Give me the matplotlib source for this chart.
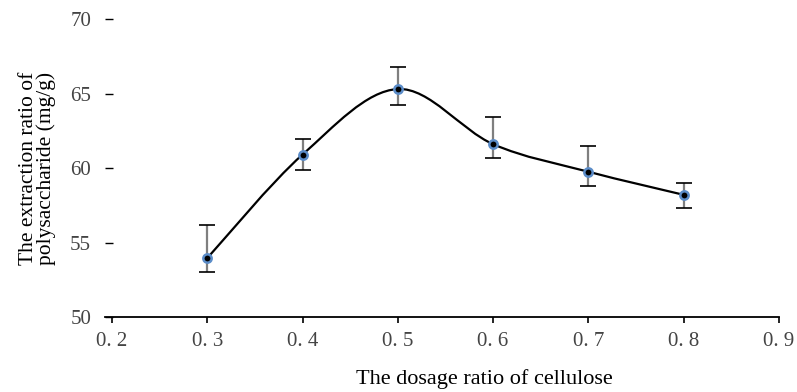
import matplotlib.pyplot as plt
from matplotlib.path import Path
from matplotlib.patches import PathPatch

# dosage ratio of cellulose and extraction ratio (mg/g)
ratio = [0.3, 0.4, 0.5, 0.6, 0.7, 0.8]
extraction = [53.95, 60.9, 65.3, 61.6, 59.75, 58.2]
err_low = [0.95, 1.0, 1.1, 0.9, 0.95, 0.9]
err_high = [2.25, 1.05, 1.5, 1.8, 1.75, 0.8]
xtick_vals = [0.2, 0.3, 0.4, 0.5, 0.6, 0.7, 0.8, 0.9]
xtick_labels = ["0. 2", "0. 3", "0. 4", "0. 5", "0. 6", "0. 7", "0. 8", "0. 9"]
ytick_vals = [50, 55, 60, 65, 70]

plt.rcParams['font.family'] = ['Liberation Serif', 'DejaVu Serif']

fig = plt.figure(figsize=(7.97, 3.92), dpi=100)
ax = fig.add_axes([0.1317, 0.1913, 0.8457, 0.7602])


def smooth_path(xs, ys):
    # Excel-like smoothed line: cubic bezier segments through the points
    pts = list(zip(xs, ys))
    verts = [pts[0]]
    codes = [Path.MOVETO]
    n = len(pts)
    for i in range(n - 1):
        p0 = pts[i - 1] if i > 0 else pts[i]
        p1 = pts[i]
        p2 = pts[i + 1]
        p3 = pts[i + 2] if i + 2 < n else pts[i + 1]
        c1 = (p1[0] + (p2[0] - p0[0]) / 6, p1[1] + (p2[1] - p0[1]) / 6)
        c2 = (p2[0] - (p3[0] - p1[0]) / 6, p2[1] - (p3[1] - p1[1]) / 6)
        verts += [c1, c2, p2]
        codes += [Path.CURVE4] * 3
    return Path(verts, codes)


ax.add_patch(PathPatch(smooth_path(ratio, extraction), facecolor='none',
                       edgecolor='black', lw=1.6, zorder=2))

# error bars: grey stems, black caps
ax.errorbar(ratio, extraction, yerr=[err_low, err_high], fmt='none',
            ecolor='#7f7f7f', elinewidth=1.6, capsize=0, zorder=1)
ax.errorbar(ratio, extraction, yerr=[err_low, err_high], fmt='none',
            ecolor='black', elinewidth=0, capsize=6, capthick=1.2, zorder=1)

ax.plot(ratio, extraction, 'o', ms=6, mfc='black', mec='#5b8cc8',
        mew=1.8, zorder=3)

ax.set_xlim(0.1927, 0.9)
ax.set_ylim(50, 70)
ax.set_xticks(xtick_vals)
ax.set_xticklabels(xtick_labels)
ax.set_yticks(ytick_vals)

for s in ['top', 'right', 'left']:
    ax.spines[s].set_visible(False)
ax.spines['bottom'].set_linewidth(1.3)

ax.tick_params(axis='x', direction='out', length=4, width=1.2, pad=7,
               labelsize=15, labelcolor='#444444')
ax.tick_params(axis='y', direction='in', length=6, width=1.0, pad=10,
               labelsize=15, labelcolor='#444444')

ax.set_ylabel("The extraction ratio of\npolysaccharide (mg/g)", fontsize=15.5,
              linespacing=0.9)
ax.yaxis.set_label_coords(-0.072, 0.5)
ax.set_xlabel("The dosage ratio of cellulose", fontsize=16)
ax.xaxis.set_label_coords(0.5625, -0.175)

fig.savefig("out.png", dpi=100)
